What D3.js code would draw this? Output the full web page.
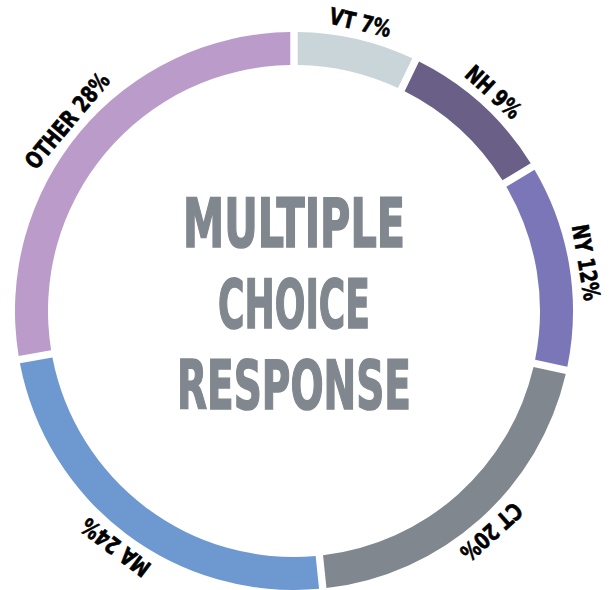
<!DOCTYPE html>
<html>
<head>
<meta charset="utf-8">
<script src="https://cdn.jsdelivr.net/npm/d3@7"></script>
<style>
  body { margin: 0; background: white; }
</style>
</head>
<body>
<div id="container"></div>
<script>
let w = 614;
let h = 590;

// DATA
let states = ["VT", "NH", "NY", "CT", "MA", "OTHER"];
let shares = [7, 9, 12, 20, 24, 28];
let colors = ["#c9d5d9", "#6a5f87", "#7b76b8", "#80878e", "#6d98d0", "#bb9bc9"];
let titleLines = ["MULTIPLE", "CHOICE", "RESPONSE"];

let cx = 294;
let cy = 311;
let outerR = 279;
let innerR = 246;
let labelR = 288;
let fontFam = "'Liberation Sans Narrow', 'Arial Narrow', 'DejaVu Sans Condensed', sans-serif";

let viz = d3.select("#container").append("svg")
    .attr("width", w)
    .attr("height", h)
    .style("background-color", "white")
;

let data = states.map(function(s, i) {
  return { state: s, share: shares[i], color: colors[i] };
});

let pie = d3.pie()
    .value(function(d) { return d.share; })
    .sort(null)
    .padAngle(0.02)
;

let arcMaker = d3.arc()
    .innerRadius(innerR)
    .outerRadius(outerR)
;

let ring = viz.append("g").attr("transform", "translate(" + cx + "," + cy + ")");

let slices = pie(data);

ring.selectAll(".slice").data(slices).enter()
  .append("path")
    .attr("class", "slice")
    .attr("d", arcMaker)
    .attr("fill", function(d) { return d.data.color; })
;

// labels sit along the ring, rotated to the middle of each slice
ring.selectAll(".label").data(slices).enter()
  .append("text")
    .attr("class", "label")
    .attr("transform", function(d) {
      let mid = (d.startAngle + d.endAngle) / 2 * 180 / Math.PI;
      return "rotate(" + mid + ") translate(0," + (-labelR) + ")";
    })
    .attr("text-anchor", "middle")
    .style("font-family", fontFam)
    .style("font-weight", "bold")
    .style("font-size", "23px")
    .attr("fill", "#000")
    .attr("stroke", "#000")
    .attr("stroke-width", 0.6)
    .text(function(d) { return d.data.state + " " + d.data.share + "%"; })
    .each(function() {
      // squeeze to look like a condensed face
      let len = this.getComputedTextLength();
      d3.select(this)
        .attr("textLength", len * 0.86)
        .attr("lengthAdjust", "spacingAndGlyphs");
    })
;

// centre title
ring.selectAll(".title").data(titleLines).enter()
  .append("text")
    .attr("class", "title")
    .attr("x", 0)
    .attr("y", function(d, i) { return -64 + i * 81; })
    .attr("text-anchor", "middle")
    .attr("textLength", function(d, i) { return [222, 152, 234][i]; })
    .attr("lengthAdjust", "spacingAndGlyphs")
    .style("font-family", fontFam)
    .style("font-weight", "bold")
    .style("font-size", "68px")
    .attr("fill", "#80878e")
    .attr("stroke", "#80878e")
    .attr("stroke-width", 1.6)
    .text(function(d) { return d; })
;
</script>
</body>
</html>
